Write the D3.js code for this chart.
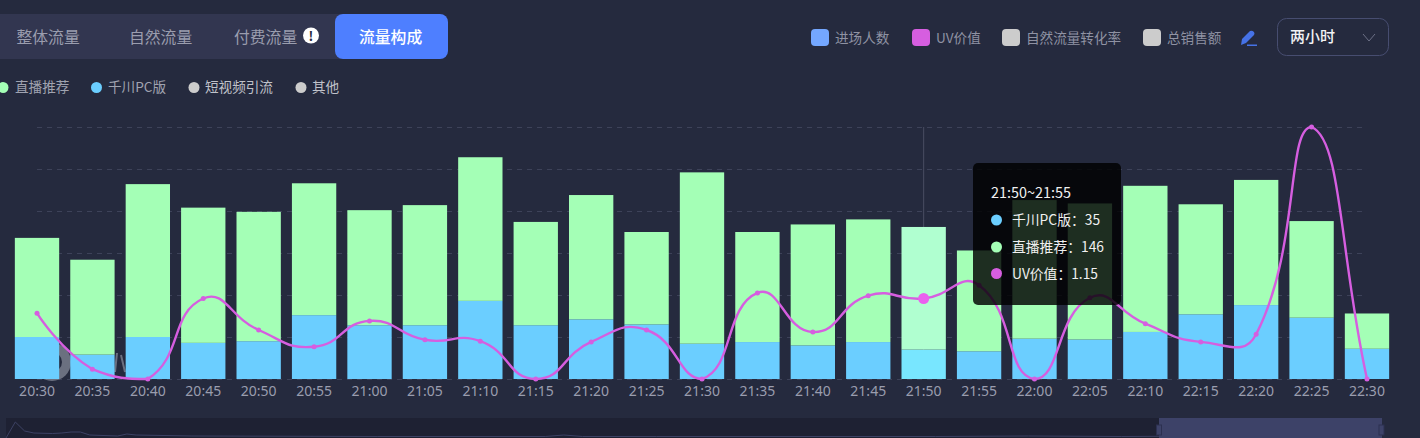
<!DOCTYPE html>
<html>
<head>
<meta charset="utf-8">
<script src="https://cdn.jsdelivr.net/npm/d3@7"></script>
<style>
html, body { margin: 0; padding: 0; background: #252a3e; overflow: hidden; }
svg { display: block; font-family: "Noto Sans CJK SC", "Noto Sans", sans-serif; }
</style>
</head>
<body>
<svg id="chart" width="1420" height="438"></svg>
<script>
// values
var times = ["20:30","20:35","20:40","20:45","20:50","20:55","21:00","21:05","21:10","21:15","21:20","21:25","21:30","21:35","21:40","21:45","21:50","21:55","22:00","22:05","22:10","22:15","22:20","22:25","22:30"];
var qianchuan = [50,29,50,43,45,76,64,64,93,64,71,65,42,44,40,44,35,33,48,47,56,77,88,73,36];
var zhibo = [118,113,182,161,154,157,137,143,171,123,148,110,204,131,144,146,146,120,165,162,174,131,149,115,42];
var uv = [0.94,0.14,0,1.15,0.70,0.46,0.83,0.56,0.54,0,0.53,0.70,0,1.23,0.67,1.19,1.15,1.34,0,1.16,0.79,0.53,0.64,3.6,0];

var tabs = ["整体流量","自然流量","付费流量","流量构成"];
var leftLegend = ["直播推荐","千川PC版","短视频引流","其他"];
var rightLegend = ["进场人数","UV价值","自然流量转化率","总销售额"];

// overview strip under the chart
var miniIndex = [0,1,2,3,5,6,7,8,9,12,13,14,20,40,58,60,62,70,100,110,120,140,148];
var miniValue = [0,16,7,5,4.5,5,6,6,3,2,4,3,2,1.5,1.5,3,1.5,1.5,1.5,2,1.5,2.5,2];

var svg = d3.select("#chart");
var bg = "#252a3e";
var blue = "#6bceff", green = "#a4ffb6", purple = "#d65ee0";
var hoverIndex = 16;

var x = d3.scaleBand().domain(times).range([9.3, 1394.7]).paddingInner(0.2).paddingOuter(0.1);
var y = d3.scaleLinear().domain([0, 300]).range([379, 127]);
var yUv = d3.scaleLinear().domain([0, 3.6]).range([379, 127]);
function cx(t) { return x(t) + x.bandwidth() / 2; }

// smooth line whose control points stay inside the box of the data
function smoothPath(pts, smooth) {
  var p = d3.path();
  var minX = d3.min(pts, function(d) { return d[0]; }), maxX = d3.max(pts, function(d) { return d[0]; });
  var minY = d3.min(pts, function(d) { return d[1]; }), maxY = d3.max(pts, function(d) { return d[1]; });
  function clampX(v) { return Math.max(minX, Math.min(maxX, v)); }
  function clampY(v) { return Math.max(minY, Math.min(maxY, v)); }
  var cp0 = pts[0];
  p.moveTo(pts[0][0], pts[0][1]);
  for (var i = 1; i < pts.length; i++) {
    var cur = pts[i], prev = pts[i - 1], next = pts[Math.min(i + 1, pts.length - 1)];
    var vx = next[0] - prev[0], vy = next[1] - prev[1];
    var lenPrev = Math.hypot(cur[0] - prev[0], cur[1] - prev[1]);
    var lenNext = Math.hypot(next[0] - cur[0], next[1] - cur[1]);
    var ratio = lenNext / (lenNext + lenPrev);
    var cp1x = clampX(cur[0] - vx * smooth * (1 - ratio));
    var cp1y = clampY(cur[1] - vy * smooth * (1 - ratio));
    p.bezierCurveTo(cp0[0], cp0[1], cp1x, cp1y, cur[0], cur[1]);
    cp0 = [clampX(cur[0] + vx * smooth * ratio), clampY(cur[1] + vy * smooth * ratio)];
  }
  return p.toString();
}

// tabs
svg.append("rect").attr("x", -10).attr("y", 14).attr("width", 350).attr("height", 45).attr("fill", "#323650");
svg.append("rect").attr("x", 335).attr("y", 14).attr("width", 113).attr("height", 45).attr("rx", 8).attr("fill", "#4e7fff");
var tabX = [16.5, 129, 234, 359];
svg.selectAll(".tab").data(tabs).enter().append("text")
  .attr("class", "tab")
  .attr("x", function(d, i) { return tabX[i]; })
  .attr("y", 43)
  .attr("font-size", 15.8)
  .attr("fill", function(d, i) { return i == 3 ? "#ffffff" : "#9a9dae"; })
  .attr("font-weight", function(d, i) { return i == 3 ? 500 : 400; })
  .text(function(d) { return d; });
svg.append("circle").attr("cx", 311).attr("cy", 35.5).attr("r", 8).attr("fill", "#fff");
svg.append("text").attr("x", 311).attr("y", 40.5).attr("text-anchor", "middle").attr("font-size", 13).attr("font-weight", 700).attr("fill", "#252a3e").text("!");

// left legend
var leftDot = [3, 96.5, 194, 301], leftText = [15, 108, 205, 312];
var leftColor = [green, blue, "#cccccc", "#cccccc"];
var leftFill = ["#a0a3b0", "#a0a3b0", "#c0c2ca", "#c0c2ca"];
leftLegend.forEach(function(d, i) {
  svg.append("circle").attr("cx", leftDot[i]).attr("cy", 87.5).attr("r", 5.5).attr("fill", leftColor[i]);
  svg.append("text").attr("x", leftText[i]).attr("y", 92).attr("font-size", 13.6).attr("fill", leftFill[i]).text(d);
});

// right legend
var rightBox = [811, 912, 1002, 1143], rightText = [835, 936, 1026, 1167];
var rightColor = ["#74a7ff", purple, "#cccccc", "#cccccc"];
rightLegend.forEach(function(d, i) {
  svg.append("rect").attr("x", rightBox[i]).attr("y", 29).attr("width", 18).attr("height", 17).attr("rx", 4).attr("fill", rightColor[i]);
  svg.append("text").attr("x", rightText[i]).attr("y", 42.5).attr("font-size", 13.6).attr("fill", "#8f92a3").text(d);
});

// pencil
svg.append("path").attr("d", "M1241 45 L1242 39 L1250 31 Q1252 30 1254 32 Q1255 34 1254 35 L1246 43 Z M1247 44.5 H1257 V46 H1247 Z").attr("fill", "#4672e6");

// dropdown
svg.append("rect").attr("x", 1277.5).attr("y", 18.5).attr("width", 111).attr("height", 37).attr("rx", 9).attr("fill", "none").attr("stroke", "#474d70");
svg.append("text").attr("x", 1290).attr("y", 42).attr("font-size", 15).attr("font-weight", 500).attr("fill", "#f2f2f5").text("两小时");
svg.append("path").attr("d", "M1363 34 L1369 41 L1375 34").attr("fill", "none").attr("stroke", "#6c7086");

// grid
svg.append("g").selectAll("line").data(y.ticks(6)).enter().append("line")
  .attr("x1", cx(times[0])).attr("x2", cx(times[24]) - 3)
  .attr("y1", function(d) { return y(d) + 0.5; })
  .attr("y2", function(d) { return y(d) + 0.5; })
  .attr("stroke", "#3d4259")
  .attr("stroke-dasharray", "5 5");

// watermark behind the bars
var mark = svg.append("g").attr("fill", "#6b7080");
mark.append("circle").attr("cx", 52).attr("cy", 362).attr("r", 19);
mark.append("circle").attr("cx", 52).attr("cy", 362).attr("r", 10).attr("fill", bg);
svg.append("path").attr("d", "M117 353 L115 372 M121 355 L125 372").attr("stroke", "#6b7080").attr("stroke-width", 2).attr("fill", "none");

// axis pointer
svg.append("line").attr("x1", cx(times[hoverIndex])).attr("x2", cx(times[hoverIndex])).attr("y1", 127).attr("y2", 379).attr("stroke", "#4a4e63");

// bars
var rows = times.map(function(t, i) { return {time: t, qianchuan: qianchuan[i], zhibo: zhibo[i]}; });
var stack = d3.stack().keys(["qianchuan", "zhibo"])(rows);
var barColor = {qianchuan: blue, zhibo: green};
var hoverColor = {qianchuan: "#78e6ff", zhibo: "#b0ffd0"};
svg.append("g").selectAll("g").data(stack).enter().append("g")
  .each(function(s) {
    d3.select(this).selectAll("rect").data(s).enter().append("rect")
      .attr("x", function(d) { return x(d.data.time); })
      .attr("width", x.bandwidth())
      .attr("y", function(d) { return y(d[1]); })
      .attr("height", function(d) { return y(d[0]) - y(d[1]); })
      .attr("fill", function(d, i) { return i == hoverIndex ? hoverColor[s.key] : barColor[s.key]; });
  });

// axis labels
var axis = svg.append("g").attr("transform", "translate(0,379)")
  .call(d3.axisBottom(x).tickSize(0).tickPadding(7));
axis.select(".domain").remove();
axis.selectAll("text").attr("font-size", 14).attr("fill", "#9a9dae").attr("font-family", "'Noto Sans', sans-serif");

// uv line
var uvPoints = uv.map(function(d, i) { return [cx(times[i]), yUv(d)]; });
svg.append("path").attr("d", smoothPath(uvPoints, 0.5)).attr("fill", "none").attr("stroke", purple).attr("stroke-width", 2.4);
svg.append("g").selectAll("circle").data(uv).enter().append("circle")
  .attr("cx", function(d, i) { return cx(times[i]); })
  .attr("cy", function(d) { return yUv(d); })
  .attr("r", function(d, i) { return i == hoverIndex ? 5.5 : 2.5; })
  .attr("fill", function(d, i) { return i == hoverIndex ? "#ea60ee" : purple; });

// tooltip
var tip = svg.append("g");
tip.append("rect").attr("x", 973).attr("y", 163).attr("width", 148).attr("height", 142).attr("rx", 5).attr("fill", "rgba(0,0,0,0.82)");
tip.append("text").attr("x", 991).attr("y", 197.5).attr("font-size", 14.4).attr("fill", "#f0f0f0").text(times[hoverIndex] + "~" + times[hoverIndex + 1]);
var tipRows = [["千川PC版", qianchuan[hoverIndex], blue], ["直播推荐", zhibo[hoverIndex], green], ["UV价值", uv[hoverIndex], purple]];
var tipY = [220, 247, 273.5];
tipRows.forEach(function(r, i) {
  tip.append("circle").attr("cx", 996.5).attr("cy", tipY[i]).attr("r", 5.5).attr("fill", r[2]);
  tip.append("text").attr("x", 1012).attr("y", tipY[i] + 5).attr("font-size", 13.8).attr("fill", "#f0f0f0").text(r[0] + "：" + r[1]);
});

// overview strip
var miniX = d3.scaleLinear().domain([0, 148]).range([6, 1382]);
var miniY = d3.scaleLinear().domain([0, 20]).range([438, 418]);
svg.append("rect").attr("x", 6).attr("y", 418).attr("width", 1376).attr("height", 20).attr("fill", "#1e2133");
var miniLine = d3.line().x(function(d, i) { return miniX(miniIndex[i]); }).y(function(d) { return miniY(d); });
svg.append("path").datum(miniValue).attr("d", miniLine).attr("fill", "none").attr("stroke", "#3d4264");
svg.append("rect").attr("x", 1159).attr("y", 418).attr("width", 223).attr("height", 20).attr("fill", "#3d4268");
[1159, 1381.5].forEach(function(h) {
  svg.append("rect").attr("x", h - 2.5).attr("y", 425).attr("width", 5).attr("height", 10).attr("fill", "#3d4268").attr("stroke", "#2c3050");
});
</script>
</body>
</html>
